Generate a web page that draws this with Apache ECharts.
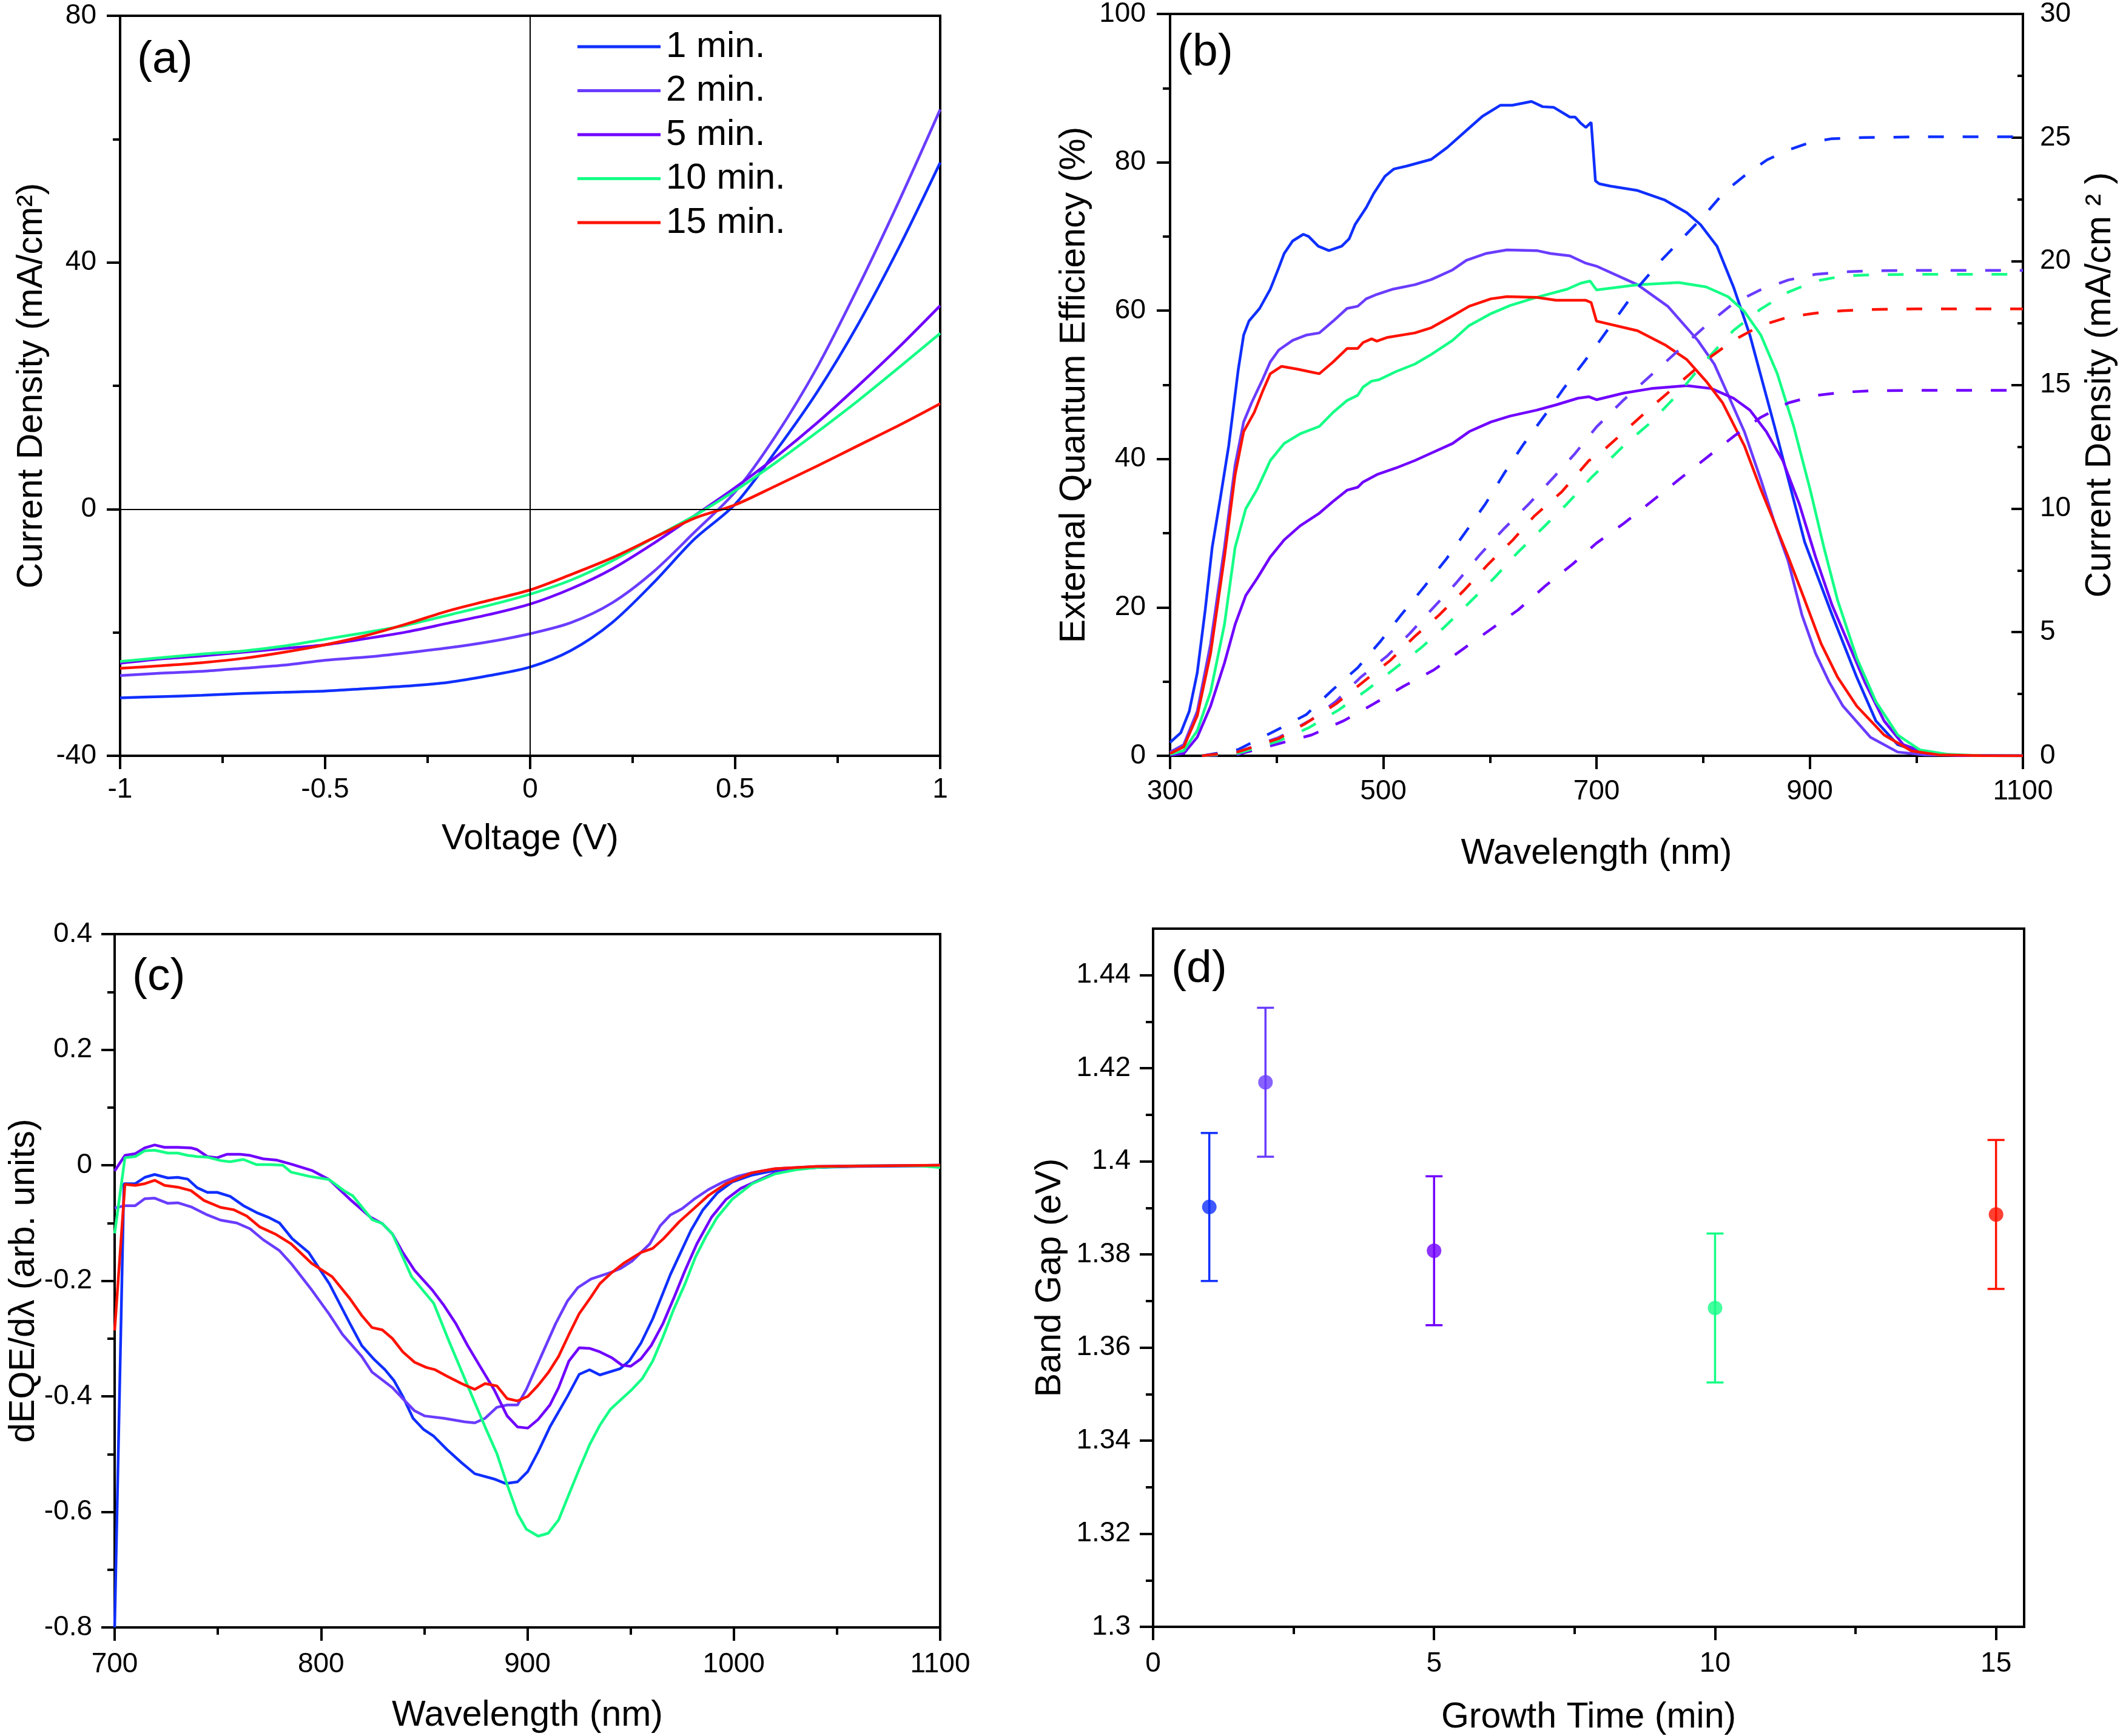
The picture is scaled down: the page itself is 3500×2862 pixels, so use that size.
<!DOCTYPE html>
<html>
<head>
<meta charset="utf-8">
<script src="https://cdn.jsdelivr.net/npm/echarts@6/dist/echarts.min.js"></script>
<style>
html,body{margin:0;padding:0;background:#fff;}
#chart{width:3500px;height:2862px;}
</style>
</head>
<body>
<div id="chart"></div>
<script>
// ---------- DATA ----------
const seriesNames = ['1 min.', '2 min.', '5 min.', '10 min.', '15 min.'];
const seriesColors = ['#0f2fff', '#6a3cff', '#7000ff', '#15ff86', '#ff1200'];

// (a) J-V curves
const voltage = [-1,-0.9,-0.8,-0.7,-0.6,-0.5,-0.4,-0.3,-0.2,-0.1,0,0.1,0.2,0.3,0.4,0.5,0.6,0.7,0.8,0.9,1];
const jv1min  = [-30.6,-30.4,-30.2,-29.9,-29.7,-29.5,-29.1,-28.7,-28.1,-27.0,-25.6,-22.9,-18.4,-12.0,-4.9,0.8,9.5,19.0,30.0,42.5,56.2];
const jv2min  = [-27.0,-26.6,-26.3,-25.8,-25.3,-24.5,-24.0,-23.3,-22.5,-21.5,-20.2,-18.4,-15.2,-10.2,-3.8,2.8,12.0,23.0,36.0,50.0,64.8];
const jv5min  = [-25.0,-24.3,-23.8,-23.2,-22.6,-22.0,-21.0,-19.9,-18.5,-17.1,-15.4,-12.9,-9.7,-5.6,-1.1,3.5,8.5,14.0,20.0,26.3,33.0];
const jv10min = [-24.7,-24.1,-23.5,-23.0,-22.2,-21.1,-20.0,-18.8,-17.2,-15.6,-13.8,-11.5,-8.4,-4.7,-1.1,3.0,7.6,12.5,17.6,23.0,28.5];
const jv15min = [-25.8,-25.4,-24.9,-24.2,-23.2,-22.0,-20.5,-18.6,-16.5,-14.8,-13.1,-10.6,-7.9,-4.7,-1.5,0.7,3.8,7.0,10.3,13.6,17.1];

// (b) EQE (%) : [wavelength nm, EQE]
const eqe1min = [[300,1.8],[310,3.1],[318,6.0],[325.5,11.2],[333,19.7],[339.5,28.1],[347,34.6],[355,41.8],[364,52.1],[369,56.7],[374,58.6],[384,60.3],[394,62.9],[402,65.8],[407,67.7],[415,69.4],[425,70.3],[430,70.0],[439,68.7],[449,68.1],[461,68.7],[468,69.7],[473.5,71.6],[484,73.9],[491,75.8],[501.5,78.1],[510,79.1],[522,79.5],[545,80.4],[560,82.0],[578,84.3],[593,86.2],[610,87.7],[621,87.7],[632,88.0],[639,88.2],[649.5,87.5],[660,87.4],[675,86.1],[680,86.1],[685,85.3],[690,84.7],[695,85.4],[699,77.5],[702.6,77.1],[712.8,76.8],[738.5,76.2],[764.2,74.9],[784.8,73.2],[797.6,71.6],[813,68.7],[828.5,63.2],[843.9,56.7],[867,44.4],[895.3,28.8],[921,19.0],[944.1,10.6],[962.1,4.7],[982.6,1.5],[1008.3,0.3],[1040,0.05],[1100,0]];
const eqe2min = [[300,0.5],[312.8,1.5],[325.5,6.0],[338,15.1],[351,28.1],[361,39.2],[369,45.0],[376.5,47.6],[387,50.8],[394,53.1],[402,54.7],[415,56.0],[427.5,56.7],[440,57.0],[453,58.6],[466,60.3],[476,60.6],[484,61.6],[494,62.2],[509,62.9],[529.6,63.5],[545,64.2],[565,65.5],[578,66.8],[596,67.7],[616,68.2],[644,68.1],[657,67.7],[675,67.4],[690,66.4],[700,66.0],[738.5,63.5],[766.8,60.6],[795,56.0],[810.5,52.8],[820.8,49.5],[838.7,43.7],[854.2,37.2],[867,31.4],[879.9,26.2],[892.7,19.0],[905.5,13.8],[918.4,9.9],[931.2,6.7],[957,2.5],[982.6,0.5],[1008,0.13],[1050,0.02],[1100,0]];
const eqe5min = [[300,0.1],[312.8,0.3],[325.5,2.5],[338,6.7],[351,12.5],[361,17.7],[371,21.6],[381.6,23.9],[394,26.8],[407,29.1],[422,31.0],[440,32.7],[453,34.3],[466,35.8],[476,36.2],[481,36.9],[494,37.9],[512,38.8],[529.6,39.8],[545,40.8],[565,42.1],[580.6,43.7],[601,45.0],[619,45.8],[644,46.6],[662,47.3],[682.6,48.2],[693,48.4],[700,48.0],[725.7,48.9],[751.4,49.5],[784.8,49.9],[807.9,49.5],[828.5,48.2],[843.9,46.6],[859.3,43.7],[874.7,39.8],[890.1,34.0],[905.5,26.8],[921,20.3],[936.4,15.1],[951.8,9.9],[969.8,4.7],[987.8,1.5],[1008.3,0.45],[1040,0.05],[1100,0]];
const eqe10min = [[300,0.2],[312.8,0.7],[325.5,3.4],[338,8.6],[351,17.7],[361,28.1],[371,33.3],[381.6,35.9],[394,39.8],[407,42.1],[422,43.4],[440,44.4],[453,46.3],[466,47.9],[476,48.6],[481,49.7],[489,50.5],[496,50.7],[512,51.8],[529.6,52.8],[545,54.1],[565,56.0],[580.6,58.0],[601,59.6],[619,60.7],[644,61.8],[672.5,62.9],[685,63.7],[694,64.0],[700,62.8],[738.5,63.5],[777,63.8],[802.8,63.2],[823.3,61.9],[838.7,59.9],[854.2,56.7],[869.6,51.5],[885,44.4],[900.4,35.9],[913.3,28.1],[926.1,21.0],[944.1,13.2],[962.1,7.3],[982.6,2.8],[1003.2,0.8],[1028.9,0.2],[1060,0.03],[1100,0]];
const eqe15min = [[300,0.3],[312.8,1.2],[325.5,5.4],[338,13.8],[351,26.8],[361,37.9],[369,43.7],[379,46.3],[387,49.2],[394,51.5],[404.6,52.5],[420,52.1],[430,51.8],[440,51.5],[453,53.1],[466,54.9],[476,54.9],[481,55.7],[489,56.2],[494,55.9],[504,56.4],[529.6,57.0],[545,57.7],[565,59.3],[580.6,60.6],[601,61.6],[616,61.9],[644,61.8],[662,61.4],[690,61.4],[695,61.1],[700,58.6],[738.5,57.3],[764.2,55.4],[784.8,53.4],[802.8,50.5],[818.2,47.6],[838.7,41.8],[854.2,35.9],[867,31.4],[879.9,26.8],[895.3,21.0],[910.7,15.1],[926.1,10.6],[944.1,6.7],[969.8,2.8],[995.5,0.65],[1021,0.13],[1060,0.02],[1100,0]];

// (b) integrated current density (mA/cm2) : [wavelength nm, J]
const jsc1min = [[330,0],[363.8,0.25],[399.5,1.03],[427.6,1.66],[453,2.69],[476,3.56],[496.4,4.58],[516.8,5.7],[538.5,6.84],[559,7.95],[578,9.1],[596,10.2],[613.8,11.45],[631.6,12.6],[652,13.8],[670,14.9],[687.8,15.9],[700,16.6],[720,17.8],[740,19.0],[760,20.0],[780,20.9],[800,21.8],[820,22.8],[840,23.5],[860,24.1],[880,24.5],[900,24.8],[920,24.95],[950,25.0],[1000,25.03],[1100,25.03]];
const jsc2min = [[330,0],[364,0.16],[402,0.74],[432.6,1.46],[455.6,2.2],[478.6,3.17],[504,4.05],[524.5,4.93],[545,5.9],[568,6.97],[590.8,8.14],[613.8,9.21],[636.7,10.19],[659.7,11.26],[680,12.23],[700,13.3],[725.7,14.4],[751.4,15.4],[777,16.4],[802.8,17.4],[828.5,18.3],[854.2,18.85],[879.9,19.24],[905.5,19.47],[931.2,19.57],[957,19.61],[1000,19.63],[1100,19.63]];
const jsc5min = [[330,0],[364,0.06],[402,0.49],[432.6,0.84],[463,1.42],[491,2.1],[519.4,2.82],[547.4,3.47],[575.5,4.34],[601,5.12],[626.5,5.9],[652,6.87],[677.6,7.75],[700,8.6],[725.7,9.4],[751.4,10.28],[777,11.16],[802.8,12.04],[828.5,12.91],[854.2,13.69],[879.9,14.27],[905.5,14.57],[931.2,14.7],[957,14.76],[1000,14.78],[1100,14.78]];
const jsc10min = [[330,0],[364,0.1],[402,0.6],[430,1.13],[458,1.85],[483.7,2.63],[509,3.47],[534.7,4.34],[557.7,5.22],[580.6,6.19],[603.6,7.17],[626.5,8.24],[649.5,9.21],[672.4,10.19],[695.4,11.26],[700,11.45],[725.7,12.55],[751.4,13.5],[777,14.66],[802.8,16.0],[828.5,17.2],[854.2,18.07],[879.9,18.75],[905.5,19.2],[931.2,19.4],[957,19.45],[1000,19.47],[1100,19.47]];
const jsc15min = [[330,0],[364,0.16],[402,0.7],[427.6,1.32],[455.6,2.1],[481,2.98],[506.6,3.86],[529.6,4.83],[552.6,5.7],[575.5,6.68],[598.5,7.75],[621.4,8.72],[641.8,9.7],[667.3,10.67],[692.9,11.94],[700,12.1],[725.7,13.1],[751.4,14.1],[777,15.05],[802.8,16.0],[828.5,16.8],[854.2,17.4],[879.9,17.74],[905.5,17.9],[931.2,18.0],[957,18.05],[1000,18.07],[1100,18.07]];

// (c) dEQE/dλ : [wavelength nm, value]
const deqe1min = [[700,-0.8],[704.5,-0.032],[710,-0.032],[714.6,-0.021],[719.4,-0.016],[725.8,-0.022],[730.6,-0.021],[735.4,-0.024],[740,-0.039],[744.9,-0.047],[749.7,-0.047],[756,-0.054],[762.4,-0.07],[768.8,-0.082],[775,-0.091],[779.9,-0.1],[786,-0.127],[794,-0.151],[804,-0.205],[814,-0.274],[819.7,-0.312],[825.4,-0.335],[831,-0.354],[835.4,-0.373],[839.6,-0.4],[844.6,-0.438],[849.6,-0.457],[854.6,-0.469],[861,-0.492],[868.1,-0.515],[874.5,-0.534],[883.8,-0.543],[889.5,-0.551],[895.2,-0.548],[900.2,-0.53],[905.2,-0.496],[910.9,-0.453],[919.4,-0.4],[925.1,-0.362],[930.1,-0.354],[935.1,-0.363],[945,-0.352],[949.3,-0.339],[955,-0.308],[960.7,-0.266],[969.3,-0.189],[979.2,-0.113],[984.9,-0.078],[992,-0.048],[999.2,-0.029],[1008.9,-0.017],[1020,-0.009],[1040,-0.004],[1060,-0.002],[1100,-0.001]];
const deqe2min = [[700,-0.074],[705,-0.07],[710,-0.07],[714.6,-0.058],[719.4,-0.057],[725.8,-0.066],[730.6,-0.065],[737,-0.072],[744.9,-0.086],[751.3,-0.095],[759.2,-0.1],[765.6,-0.11],[772,-0.129],[779.9,-0.148],[785.5,-0.17],[795.5,-0.216],[804,-0.258],[810.4,-0.293],[819.7,-0.331],[824.7,-0.358],[834.6,-0.385],[839.6,-0.404],[845.3,-0.425],[850.3,-0.434],[859.6,-0.438],[869.5,-0.444],[874.5,-0.446],[879.5,-0.438],[885.2,-0.419],[890.2,-0.415],[895.2,-0.415],[899.5,-0.388],[906.6,-0.331],[913.7,-0.274],[919.4,-0.235],[924.4,-0.212],[930.8,-0.197],[940.1,-0.186],[945,-0.179],[950.7,-0.166],[959.3,-0.136],[964.3,-0.105],[969.3,-0.086],[975,-0.075],[980.7,-0.059],[987.8,-0.042],[994.9,-0.029],[1002,-0.019],[1008.9,-0.013],[1020,-0.006],[1040,-0.002],[1060,-0.001],[1100,0]];
const deqe5min = [[700,-0.01],[705,0.017],[710,0.02],[714.6,0.03],[719.4,0.035],[724.2,0.031],[730.6,0.031],[737,0.03],[740,0.027],[744.9,0.015],[749.7,0.013],[754.5,0.019],[760.8,0.019],[765.6,0.017],[772,0.011],[778.3,0.009],[785.5,0.002],[795.5,-0.009],[804,-0.025],[814,-0.059],[824,-0.09],[829.7,-0.101],[834.6,-0.119],[839.6,-0.151],[845.3,-0.182],[853.9,-0.216],[859.6,-0.243],[865.3,-0.274],[871,-0.312],[876.7,-0.346],[883.8,-0.388],[890.2,-0.434],[895.2,-0.453],[900.2,-0.455],[905.2,-0.44],[910.9,-0.415],[915.1,-0.385],[920.1,-0.339],[925.1,-0.316],[930.1,-0.317],[935.1,-0.323],[940.8,-0.333],[945.8,-0.346],[950,-0.348],[955,-0.335],[960,-0.312],[965.7,-0.274],[970.7,-0.232],[976.4,-0.182],[982.1,-0.136],[989.2,-0.09],[996.3,-0.059],[1003.4,-0.04],[1008.9,-0.031],[1020,-0.013],[1030,-0.006],[1050,-0.002],[1100,0]];
const deqe10min = [[700,-0.118],[705,0.013],[710,0.015],[714.6,0.025],[719.4,0.026],[725.8,0.021],[730.6,0.021],[735.4,0.017],[740,0.015],[744.9,0.014],[751.3,0.008],[756,0.006],[762.4,0.01],[768.8,0.001],[775,0.001],[781.5,0],[785.5,-0.012],[794,-0.019],[804,-0.025],[811.1,-0.044],[815.4,-0.053],[824.7,-0.094],[829.7,-0.101],[834.6,-0.119],[843.9,-0.193],[854.6,-0.239],[862.4,-0.308],[871,-0.381],[874.5,-0.411],[879.5,-0.453],[885.2,-0.499],[890.2,-0.553],[895.2,-0.603],[899.5,-0.63],[905.2,-0.642],[910.1,-0.637],[915.1,-0.614],[919.4,-0.576],[925.1,-0.526],[930.1,-0.484],[935.1,-0.45],[940.1,-0.423],[945.8,-0.404],[950.7,-0.388],[955.7,-0.369],[960.7,-0.339],[965.7,-0.297],[970.7,-0.251],[976.4,-0.205],[981.4,-0.159],[986.4,-0.124],[992,-0.09],[999.2,-0.059],[1008.9,-0.032],[1020,-0.015],[1030,-0.008],[1040,-0.004],[1060,-0.001],[1090,-0.001],[1100,-0.004]];
const deqe15min = [[700,-0.286],[705,-0.033],[710,-0.035],[714.6,-0.032],[719.4,-0.026],[724.2,-0.035],[730.6,-0.038],[737,-0.044],[743.3,-0.061],[751.3,-0.073],[757.6,-0.077],[764,-0.088],[770.4,-0.107],[778.3,-0.12],[785.5,-0.136],[795.5,-0.17],[805.4,-0.193],[814,-0.231],[819.7,-0.26],[824.7,-0.281],[829.7,-0.285],[834.6,-0.3],[839.6,-0.323],[845.3,-0.341],[851,-0.35],[855.3,-0.354],[861,-0.365],[868.1,-0.378],[874.5,-0.388],[879.5,-0.378],[885.2,-0.382],[890.2,-0.404],[895.2,-0.408],[900.2,-0.4],[905.2,-0.381],[910.1,-0.359],[915.1,-0.331],[920.1,-0.293],[925.1,-0.257],[930.8,-0.228],[935.1,-0.205],[940.8,-0.186],[946.5,-0.17],[955,-0.151],[960.7,-0.144],[965.7,-0.128],[973.5,-0.098],[980.7,-0.075],[987.8,-0.052],[996.3,-0.032],[1008.9,-0.013],[1020,-0.006],[1040,-0.002],[1100,0]];

// (d) band gap
const growthTime = [1, 2, 5, 10, 15];
const bandGap = [1.3902, 1.4170, 1.3808, 1.3685, 1.3886];
const bandGapErr = [0.0159, 0.0160, 0.0160, 0.0160, 0.0160];

// tick values
const dTimeTicks = [0, 5, 10, 15];
const dTimeMinor = [2.5, 7.5, 12.5];
const dGapTicks = [1.3, 1.32, 1.34, 1.36, 1.38, 1.4, 1.42, 1.44];
const dGapMinor = [1.31, 1.33, 1.35, 1.37, 1.39, 1.41, 1.43];

// ---------- CHART ----------
const FONT = '"Liberation Sans", Arial, Helvetica, sans-serif';
const plainNum = v => String(Math.round(v * 1e6) / 1e6);

function mkAxis(o) {
  const ax = {
    type: 'value',
    gridIndex: o.grid,
    min: o.min, max: o.max,
    position: o.position,
    name: o.name || '',
    nameLocation: 'middle',
    nameGap: o.nameGap || 0,
    nameTextStyle: { fontSize: 59, fontFamily: FONT, color: '#000' },
    axisLine: { show: o.line !== false, onZero: false, lineStyle: { color: '#000', width: 4 } },
    axisTick: { show: o.ticks !== false, inside: !!o.inside, length: o.tickLen || 22, lineStyle: { color: '#000', width: 4 } },
    minorTick: { show: o.minor !== false, splitNumber: 2, length: o.minorLen || 12, lineStyle: { color: '#000', width: 4 } },
    axisLabel: { show: o.labels !== false, fontSize: 46, fontFamily: FONT, color: '#000', margin: o.margin || 36, formatter: plainNum },
    splitLine: { show: false },
    splitArea: { show: false }
  };
  if (o.interval !== undefined) ax.interval = o.interval;
  if (o.tickValues) ax.axisTick.customValues = o.tickValues;
  if (o.labelValues) ax.axisLabel.customValues = o.labelValues;
  return ax;
}

const grids = [
  { left: 198, top: 26, width: 1352, height: 1220 },
  { left: 1929, top: 18, width: 1406, height: 1228 },
  { left: 189, top: 1540, width: 1361, height: 1143 },
  { left: 1901, top: 1531, width: 1436, height: 1152 }
].map(g => Object.assign({ show: true, borderColor: '#000', borderWidth: 4, backgroundColor: 'transparent', containLabel: false }, g));

const xAxes = [
  mkAxis({ grid: 0, min: -1, max: 1, interval: 0.5, position: 'bottom', name: 'Voltage (V)', nameGap: 108, margin: 33 }),
  mkAxis({ grid: 1, min: 300, max: 1100, interval: 200, position: 'bottom', name: 'Wavelength (nm)', nameGap: 132, margin: 36 }),
  mkAxis({ grid: 2, min: 700, max: 1100, interval: 100, position: 'bottom', name: 'Wavelength (nm)', nameGap: 116, margin: 38 }),
  mkAxis({ grid: 3, min: 0, max: 15.5, interval: 5, position: 'bottom', name: 'Growth Time (min)', nameGap: 120, margin: 38, minor: false, tickValues: dTimeTicks, labelValues: dTimeTicks }),
  mkAxis({ grid: 3, min: 0, max: 15.5, position: 'bottom', line: false, labels: false, minor: false, tickLen: 12, tickValues: dTimeMinor })
];

const yAxes = [
  mkAxis({ grid: 0, min: -40, max: 80, interval: 40, position: 'left', name: 'Current Density (mA/cm²)', nameGap: 116, margin: 39 }),
  mkAxis({ grid: 1, min: 0, max: 100, interval: 20, position: 'left', name: 'External Quantum Efficiency (%)', nameGap: 128, margin: 40 }),
  mkAxis({ grid: 1, min: 0, max: 30, interval: 5, position: 'right', inside: true, tickLen: 19, minorLen: 9, name: 'Current Density (mA/cm ² )', nameGap: 98, margin: 28 }),
  mkAxis({ grid: 2, min: -0.8, max: 0.4, interval: 0.2, position: 'left', name: 'dEQE/dλ (arb. units)', nameGap: 119, margin: 37 }),
  mkAxis({ grid: 3, min: 1.3, max: 1.45, interval: 0.02, position: 'left', name: 'Band Gap (eV)', nameGap: 140, margin: 37, minor: false, tickValues: dGapTicks, labelValues: dGapTicks }),
  mkAxis({ grid: 3, min: 1.3, max: 1.45, position: 'left', line: false, labels: false, minor: false, tickLen: 12, tickValues: dGapMinor })
];

const series = [];
const jvSets = [jv1min, jv2min, jv5min, jv10min, jv15min];
jvSets.forEach((arr, i) => {
  const s = {
    type: 'line', name: seriesNames[i], xAxisIndex: 0, yAxisIndex: 0,
    data: voltage.map((v, k) => [v, arr[k]]),
    showSymbol: false, symbol: 'none', smooth: 0.3,
    lineStyle: { color: seriesColors[i], width: 4.5 },
    itemStyle: { color: seriesColors[i] },
    emphasis: { disabled: true }, z: 3
  };
  if (i === 0) {
    s.markLine = {
      silent: true, symbol: 'none', animation: false,
      label: { show: false },
      lineStyle: { color: '#000', width: 2, type: 'solid' },
      emphasis: { disabled: true },
      data: [{ xAxis: 0 }, { yAxis: 0 }]
    };
  }
  series.push(s);
});

const eqeSets = [eqe1min, eqe2min, eqe5min, eqe10min, eqe15min];
eqeSets.forEach((arr, i) => {
  series.push({
    type: 'line', name: 'eqe' + i, xAxisIndex: 1, yAxisIndex: 1, data: arr,
    showSymbol: false, symbol: 'none',
    lineStyle: { color: seriesColors[i], width: 4.5 },
    itemStyle: { color: seriesColors[i] }, emphasis: { disabled: true }
  });
});
const jscSets = [jsc1min, jsc2min, jsc5min, jsc10min, jsc15min];
jscSets.forEach((arr, i) => {
  series.push({
    type: 'line', name: 'jsc' + i, xAxisIndex: 1, yAxisIndex: 2, data: arr,
    showSymbol: false, symbol: 'none',
    lineStyle: { color: seriesColors[i], width: 4.5, type: [26, 31] },
    itemStyle: { color: seriesColors[i] }, emphasis: { disabled: true }
  });
});

const deqeSets = [deqe1min, deqe2min, deqe5min, deqe10min, deqe15min];
deqeSets.forEach((arr, i) => {
  series.push({
    type: 'line', name: 'deqe' + i, xAxisIndex: 2, yAxisIndex: 3, data: arr,
    showSymbol: false, symbol: 'none',
    lineStyle: { color: seriesColors[i], width: 4.5 },
    itemStyle: { color: seriesColors[i] }, emphasis: { disabled: true }
  });
});

// (d) error bars
series.push({
  type: 'custom', name: 'err', xAxisIndex: 3, yAxisIndex: 4,
  data: growthTime.map((t, i) => [t, bandGap[i], bandGapErr[i]]),
  renderItem: function (params, api) {
    const x = api.value(0), y = api.value(1), e = api.value(2);
    const top = api.coord([x, y + e]);
    const bot = api.coord([x, y - e]);
    const col = seriesColors[params.dataIndex];
    const hw = 14;
    const st = { stroke: col, lineWidth: 3.5 };
    return {
      type: 'group', children: [
        { type: 'line', shape: { x1: top[0], y1: top[1], x2: bot[0], y2: bot[1] }, style: st },
        { type: 'line', shape: { x1: top[0] - hw, y1: top[1], x2: top[0] + hw, y2: top[1] }, style: st },
        { type: 'line', shape: { x1: bot[0] - hw, y1: bot[1], x2: bot[0] + hw, y2: bot[1] }, style: st }
      ]
    };
  },
  z: 2, silent: true
});
series.push({
  type: 'scatter', name: 'gap', xAxisIndex: 3, yAxisIndex: 4,
  data: growthTime.map((t, i) => ({ value: [t, bandGap[i]], itemStyle: { color: seriesColors[i] } })),
  symbol: 'circle', symbolSize: 24, z: 3, emphasis: { disabled: true }
});

function panelLabel(txt, x, y) {
  return { type: 'text', left: x, top: y, silent: true,
    style: { text: txt, fontSize: 75, fontFamily: FONT, fill: '#000' } };
}

const option = {
  animation: false,
  backgroundColor: '#fff',
  textStyle: { fontFamily: FONT },
  grid: grids,
  xAxis: xAxes,
  yAxis: yAxes,
  legend: {
    show: true, data: seriesNames, orient: 'vertical', left: 952, top: 47,
    itemWidth: 137, itemHeight: 5, itemGap: 12.5, icon: 'rect', selectedMode: false, padding: 0,
    textStyle: { fontSize: 60, fontFamily: FONT, color: '#000', lineHeight: 60, padding: [0, 0, 0, 4] }
  },
  graphic: [
    panelLabel('(a)', 226, 62),
    panelLabel('(b)', 1941, 50),
    panelLabel('(c)', 218, 1574),
    panelLabel('(d)', 1931, 1561)
  ],
  series: series
};

const chart = echarts.init(document.getElementById('chart'), null, { renderer: 'canvas', width: 3500, height: 2862 });
chart.setOption(option);
</script>
</body>
</html>
